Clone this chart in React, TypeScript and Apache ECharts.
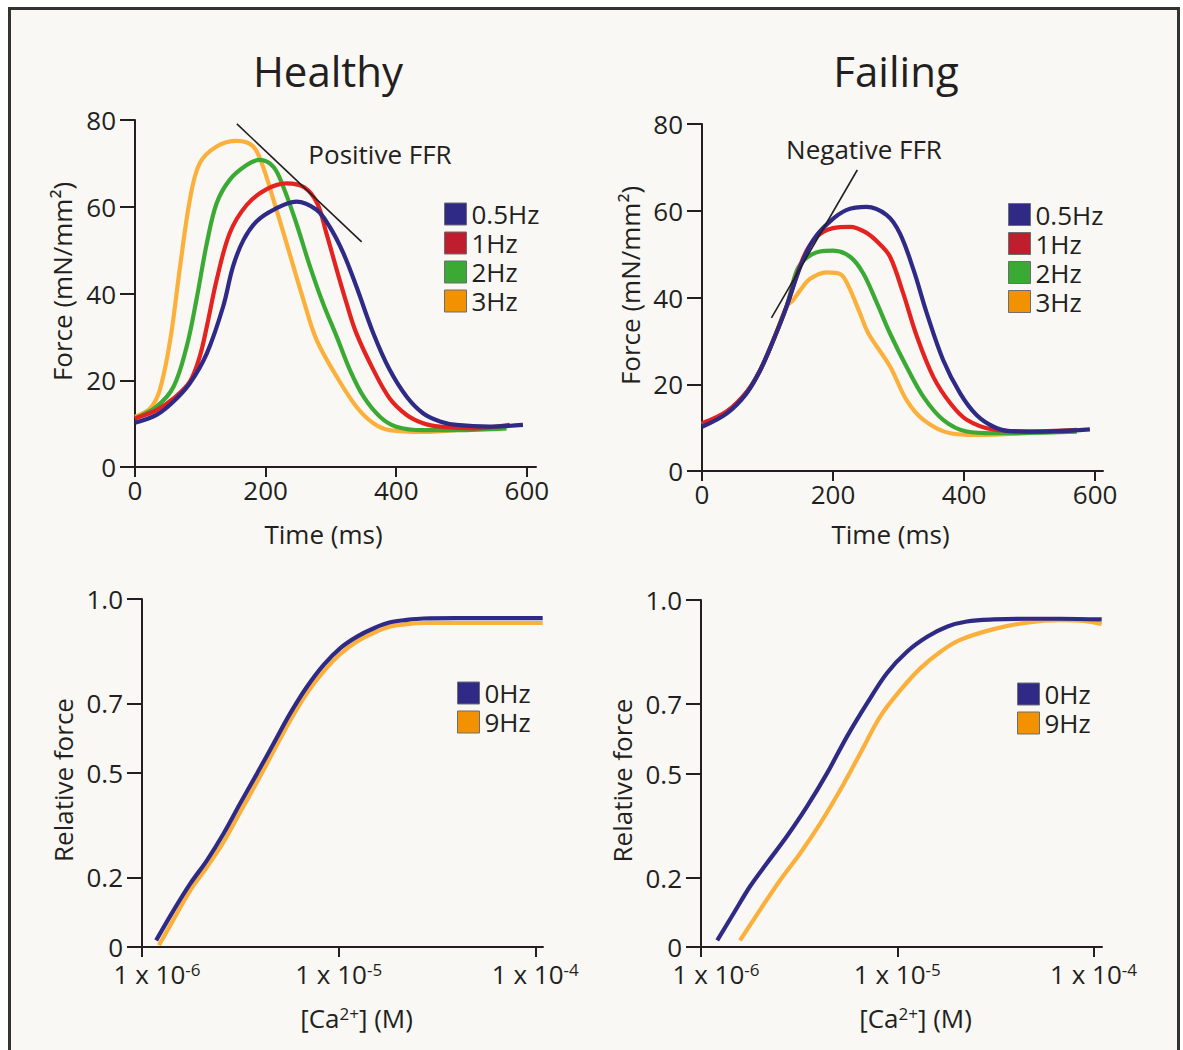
import React, { useEffect, useRef } from "react";
import * as echarts from "echarts";

const FONT = "'Open Sans', 'Noto Sans', sans-serif";
const INK = "#231f20";

// ---- Healthy: force transients (time in ms, force in mN/mm²)
const hT05 = [0, 33, 59, 84, 110, 135, 150, 166, 186, 212, 247, 278, 298, 319, 339, 365, 390, 416, 441, 467, 492, 543, 594];
const hF05 = [10.2, 12.0, 15.1, 19.3, 26.2, 37.0, 46.2, 52.3, 56.6, 59.3, 61.2, 59.3, 55.4, 49.3, 41.6, 30.8, 22.4, 16.2, 12.4, 10.5, 9.7, 9.3, 9.7];
const hT1 = [0, 33, 59, 84, 99, 110, 125, 145, 171, 201, 232, 259, 279, 293, 309, 324, 339, 365, 390, 416, 441, 467, 518, 574];
const hF1 = [11.2, 13.1, 15.8, 19.7, 25.4, 32.4, 43.1, 53.9, 60.4, 64.0, 65.4, 64.5, 60.8, 53.9, 45.4, 37.7, 30.8, 22.4, 15.8, 12.0, 10.1, 9.3, 8.9, 9.7];
const hT2 = [0, 33, 59, 79, 94, 110, 125, 145, 171, 191, 212, 227, 247, 268, 288, 309, 329, 350, 375, 400, 441, 492, 569];
const hF2 = [11.2, 13.9, 18.5, 27.7, 38.5, 51.6, 60.8, 66.2, 69.6, 70.8, 69.2, 64.6, 56.2, 46.2, 37.7, 30.0, 22.4, 16.2, 11.6, 9.3, 8.5, 8.5, 8.9];
const hT3 = [0, 23, 38, 54, 69, 84, 99, 125, 156, 181, 196, 212, 232, 258, 278, 309, 339, 365, 390, 441, 492];
const hF3 = [11.6, 13.5, 17.8, 29.3, 46.2, 61.6, 70.0, 73.9, 75.2, 73.9, 69.2, 61.6, 51.6, 38.5, 29.3, 20.8, 13.9, 10.1, 8.5, 8.1, 8.5];

// ---- Failing: force transients
const fT05 = [0, 38, 68, 89, 109, 129, 150, 170, 195, 221, 251, 282, 302, 323, 343, 368, 394, 419, 445, 470, 521, 592];
const fF05 = [10.2, 13.3, 17.9, 23.3, 30.2, 37.9, 47.1, 53.3, 57.5, 60.2, 60.9, 59.0, 54.8, 46.3, 36.4, 25.6, 17.9, 12.9, 10.2, 9.2, 9.1, 9.6];
const fT1 = [0, 38, 68, 89, 109, 129, 155, 175, 200, 226, 250, 270, 287, 307, 328, 353, 379, 404, 445, 496, 572];
const fF1 = [11.0, 13.8, 18.2, 23.3, 30.2, 37.9, 49.3, 54.0, 56.0, 56.3, 55.0, 52.5, 49.4, 41.0, 31.0, 21.7, 15.6, 11.8, 9.5, 9.1, 9.5];
const fT2 = [0, 38, 68, 89, 109, 129, 145, 160, 180, 200, 226, 246, 267, 287, 312, 338, 368, 404, 445, 572];
const fF2 = [10.8, 13.6, 18.1, 23.3, 30.2, 37.9, 46.3, 49.2, 50.6, 50.8, 49.4, 45.6, 38.7, 31.7, 24.1, 17.1, 11.8, 9.1, 8.7, 9.1];
const fT3 = [0, 38, 68, 89, 109, 129, 139, 150, 165, 190, 211, 223, 241, 254, 287, 312, 338, 379, 419, 496];
const fF3 = [10.8, 13.6, 18.1, 23.3, 30.2, 37.9, 39.4, 41.7, 44.3, 45.8, 45.4, 42.8, 36.4, 31.7, 24.1, 16.4, 11.8, 8.7, 8.3, 8.7];

// ---- FFR guide lines [time, force]
const ffrPositive = [[156, 79.1], [347, 51.9]];
const ffrNegative = [[106, 35.3], [237, 69.4]];

// ---- Force–Ca²⁺ relations ([Ca²⁺] in M, relative force)
const caH0 = [1.18e-6, 1.45e-6, 1.76e-6, 2.14e-6, 2.6e-6, 3.16e-6, 3.85e-6, 4.67e-6, 5.68e-6, 6.9e-6, 8.39e-6, 1.02e-5, 1.24e-5, 1.51e-5, 1.83e-5, 2.22e-5, 2.7e-5, 3.98e-5, 1.09e-4];
const relH0 = [0.019, 0.106, 0.182, 0.249, 0.326, 0.413, 0.499, 0.585, 0.672, 0.748, 0.811, 0.859, 0.892, 0.916, 0.933, 0.94, 0.944, 0.945, 0.945];
const caH9 = [1.22e-6, 1.45e-6, 1.76e-6, 2.14e-6, 2.6e-6, 3.16e-6, 3.85e-6, 4.67e-6, 5.68e-6, 6.9e-6, 8.39e-6, 1.02e-5, 1.24e-5, 1.51e-5, 1.83e-5, 2.22e-5, 2.7e-5, 3.98e-5, 1.09e-4];
const relH9 = [0.005, 0.08, 0.163, 0.23, 0.302, 0.388, 0.475, 0.563, 0.652, 0.73, 0.792, 0.842, 0.878, 0.903, 0.921, 0.928, 0.931, 0.931, 0.931];
const caF0 = [1.21e-6, 1.47e-6, 1.78e-6, 2.17e-6, 2.74e-6, 3.47e-6, 4.39e-6, 5.55e-6, 7.01e-6, 8.85e-6, 1.12e-5, 1.42e-5, 1.79e-5, 2.26e-5, 3.1e-5, 4.57e-5, 6.76e-5, 1.1e-4];
const relF0 = [0.019, 0.098, 0.175, 0.242, 0.319, 0.405, 0.501, 0.607, 0.702, 0.789, 0.851, 0.894, 0.923, 0.938, 0.944, 0.946, 0.946, 0.944];
const caF9 = [1.58e-6, 2.0e-6, 2.54e-6, 3.21e-6, 4.06e-6, 5.13e-6, 6.49e-6, 8.18e-6, 1.04e-5, 1.31e-5, 1.66e-5, 2.09e-5, 3.1e-5, 4.57e-5, 6.76e-5, 8.89e-5, 1.1e-4];
const relF9 = [0.019, 0.107, 0.194, 0.271, 0.357, 0.453, 0.559, 0.664, 0.741, 0.803, 0.851, 0.885, 0.916, 0.935, 0.942, 0.94, 0.931];

// ---- Tick lists and names
const timeTicks = [0, 200, 400, 600];
const forceTicks = [0, 20, 40, 60, 80];
const relTicks = [0, 0.2, 0.5, 0.7, 1.0];
const caTicks = [1e-6, 1e-5, 1e-4];
const freqNames = ["0.5Hz", "1Hz", "2Hz", "3Hz"];
const caNames = ["0Hz", "9Hz"];

const LINE = { blue: "#2e2a85", red: "#e42320", green: "#3aaa35", orange: "#fbb03b" };
const SWATCH = { blue: "#2e2a85", red: "#be1e2d", green: "#3aaa35", orange: "#f39200" };

const zip = (xs: number[], ys: number[]) => xs.map((x, i) => [x, ys[i]]);

const lab = { color: INK, fontSize: 26, fontFamily: FONT };
const axLine = { show: true, onZero: false, lineStyle: { color: INK, width: 2 } };
const tickStyle = { color: INK, width: 2 };
const supRich = {
  base: { fontSize: 26, color: INK, fontFamily: FONT },
  sup: { fontSize: 17, color: INK, fontFamily: FONT, verticalAlign: "top" },
  pad: { width: 30, fontSize: 26 },
};

const xTime = (gridIndex: number, max: number, gap: number) => ({
  type: "value",
  gridIndex,
  min: 0,
  max,
  name: "Time (ms)",
  nameLocation: "middle",
  nameGap: gap,
  nameTextStyle: { ...lab, padding: [0, 24, 0, 0] },
  axisLine: axLine,
  axisTick: { show: true, length: 10, lineStyle: tickStyle, customValues: timeTicks },
  axisLabel: { ...lab, margin: 10, customValues: timeTicks },
  splitLine: { show: false },
});

const yForce = (gridIndex: number, gap: number) => ({
  type: "value",
  gridIndex,
  min: forceTicks[0],
  max: forceTicks[forceTicks.length - 1],
  interval: 20,
  name: "Force (mN/mm²)",
  nameLocation: "middle",
  nameRotate: 90,
  nameGap: gap,
  nameTextStyle: { ...lab, padding: [0, 0, 0, 24] },
  axisLine: axLine,
  axisTick: { show: true, length: 15, lineStyle: tickStyle },
  axisLabel: { ...lab, margin: 19 },
  splitLine: { show: false },
});

const yRel = (gridIndex: number, gap: number) => ({
  type: "value",
  gridIndex,
  min: 0,
  max: 1,
  name: "Relative force",
  nameLocation: "middle",
  nameRotate: 90,
  nameGap: gap,
  nameTextStyle: { ...lab, padding: [0, 14, 0, 0] },
  axisLine: axLine,
  axisTick: { show: true, length: 15, lineStyle: tickStyle, customValues: relTicks },
  axisLabel: {
    ...lab,
    lineHeight: 24,
    margin: 19,
    customValues: relTicks,
    formatter: (v: number) => (v === 0 ? "0" : v.toFixed(1)),
  },
  splitLine: { show: false },
});

const caLabel = (v: number) => {
  const e = Math.log10(v);
  const r = Math.round(e);
  if (Math.abs(e - r) > 1e-6) return "";
  const lead = r === Math.round(Math.log10(caTicks[0])) ? "{pad| }" : "";
  return `${lead}{base|1 x 10}{sup|${r}}`;
};

const xCa = (gridIndex: number, max: number) => ({
  type: "log",
  gridIndex,
  logBase: 10,
  min: caTicks[0],
  max,
  name: "[Ca{sup|2+}] (M)",
  nameLocation: "middle",
  nameGap: 58,
  nameTextStyle: { ...lab, padding: [0, 0, 0, 28], rich: supRich },
  axisLine: axLine,
  axisTick: { show: false },
  axisLabel: { ...lab, margin: 14, formatter: caLabel, rich: supRich },
  splitLine: { show: false },
});

// tick marks for the log axis, drawn at the decade positions of caTicks
const xCaTicks = (gridIndex: number, max: number) => ({
  type: "value",
  gridIndex,
  position: "bottom",
  min: Math.log10(caTicks[0]),
  max: Math.log10(max),
  axisLine: { show: false },
  axisTick: { show: true, length: 10, lineStyle: tickStyle, customValues: caTicks.map((c) => Math.log10(c)) },
  axisLabel: { show: false },
  splitLine: { show: false },
});

const curve = (name: string, data: number[][], color: string, xi: number, yi: number) => ({
  type: "line",
  name,
  data,
  xAxisIndex: xi,
  yAxisIndex: yi,
  symbol: "none",
  showSymbol: false,
  smooth: 0.35,
  silent: true,
  lineStyle: { color, width: 4.2 },
  itemStyle: { color },
});

const guide = (data: number[][], xi: number, yi: number) => ({
  type: "line",
  data,
  xAxisIndex: xi,
  yAxisIndex: yi,
  symbol: "none",
  silent: true,
  lineStyle: { color: INK, width: 1.6 },
  z: 5,
});

const legend = (left: number, top: number, names: string[], colors: string[]) => ({
  orient: "vertical",
  left,
  top,
  padding: 0,
  itemWidth: 22,
  itemHeight: 22,
  itemGap: 3,
  icon: "rect",
  selectedMode: false,
  textStyle: { ...lab, lineHeight: 26 },
  itemStyle: { borderColor: "#6d6e71", borderWidth: 1 },
  data: names.map((n, i) => ({
    name: n,
    icon: "rect",
    itemStyle: { color: colors[i], borderColor: "#6d6e71", borderWidth: 1 },
  })),
});

const CA_MAX_L = 1.094e-4;
const CA_MAX_R = 1.104e-4;

export default function App() {
  const ref = useRef<HTMLDivElement>(null);

  useEffect(() => {
    if (!ref.current) return;
    const chart = echarts.init(ref.current, null, { renderer: "svg" });
    const option: any = {
      animation: false,
      backgroundColor: "#ffffff",
      textStyle: { fontFamily: FONT, color: INK },
      graphic: [
        {
          type: "rect",
          z: -10,
          silent: true,
          shape: { x: 9.5, y: 8.5, width: 1169, height: 1100 },
          style: { fill: "#f9f8f4", stroke: "#333333", lineWidth: 3 },
        },
        {
          type: "text",
          x: 328,
          y: 70,
          style: { text: "Healthy", fontSize: 42, fontFamily: FONT, fill: INK, align: "center", verticalAlign: "middle" },
        },
        {
          type: "text",
          x: 896,
          y: 70,
          style: { text: "Failing", fontSize: 42, fontFamily: FONT, fill: INK, align: "center", verticalAlign: "middle" },
        },
        {
          type: "text",
          x: 380,
          y: 154,
          style: { text: "Positive FFR", fontSize: 26, fontFamily: FONT, fill: INK, align: "center", verticalAlign: "middle" },
        },
        {
          type: "text",
          x: 864,
          y: 149,
          style: { text: "Negative FFR", fontSize: 26, fontFamily: FONT, fill: INK, align: "center", verticalAlign: "middle" },
        },
      ],
      grid: [
        { left: 135, top: 120, width: 401, height: 347 },
        { left: 702, top: 124, width: 401, height: 347 },
        { left: 142, top: 599, width: 401, height: 348 },
        { left: 701, top: 600, width: 401, height: 347 },
      ],
      xAxis: [
        xTime(0, 614, 54),
        xTime(1, 612, 50),
        xCa(2, CA_MAX_L),
        xCaTicks(2, CA_MAX_L),
        xCa(3, CA_MAX_R),
        xCaTicks(3, CA_MAX_R),
      ],
      yAxis: [yForce(0, 60), yForce(1, 59), yRel(2, 66), yRel(3, 66)],
      legend: [
        legend(444, 201, freqNames, [SWATCH.blue, SWATCH.red, SWATCH.green, SWATCH.orange]),
        legend(1008, 201.5, freqNames, [SWATCH.blue, SWATCH.red, SWATCH.green, SWATCH.orange]),
        legend(457, 680, caNames, [SWATCH.blue, SWATCH.orange]),
        legend(1017, 681, caNames, [SWATCH.blue, SWATCH.orange]),
      ],
      series: [
        curve("3Hz", zip(hT3, hF3), LINE.orange, 0, 0),
        curve("2Hz", zip(hT2, hF2), LINE.green, 0, 0),
        curve("1Hz", zip(hT1, hF1), LINE.red, 0, 0),
        curve("0.5Hz", zip(hT05, hF05), LINE.blue, 0, 0),
        guide(ffrPositive, 0, 0),

        curve("3Hz", zip(fT3, fF3), LINE.orange, 1, 1),
        curve("2Hz", zip(fT2, fF2), LINE.green, 1, 1),
        curve("1Hz", zip(fT1, fF1), LINE.red, 1, 1),
        curve("0.5Hz", zip(fT05, fF05), LINE.blue, 1, 1),
        guide(ffrNegative, 1, 1),

        curve("9Hz", zip(caH9, relH9), LINE.orange, 2, 2),
        curve("0Hz", zip(caH0, relH0), LINE.blue, 2, 2),

        curve("9Hz", zip(caF9, relF9), LINE.orange, 4, 3),
        curve("0Hz", zip(caF0, relF0), LINE.blue, 4, 3),
      ],
    };
    chart.setOption(option);
    return () => chart.dispose();
  }, []);

  return (
    <div
      ref={ref}
      style={{ position: "fixed", left: 0, top: 0, width: 1183, height: 1050 }}
    />
  );
}
